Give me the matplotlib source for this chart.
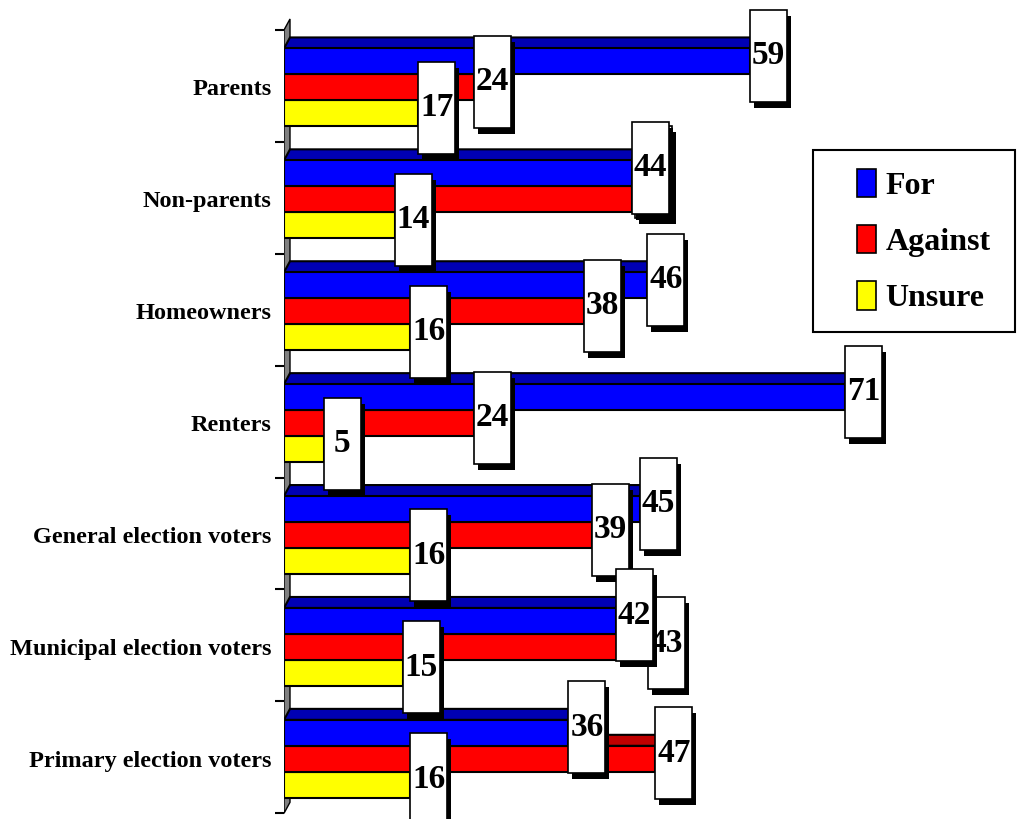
import matplotlib
matplotlib.use('Agg')
import matplotlib.pyplot as plt
from matplotlib.patches import Polygon, Rectangle, Patch

# Times-like bold serif, as in the original slide
plt.rcParams['font.family'] = ['Liberation Serif', 'DejaVu Serif']
plt.rcParams['font.weight'] = 'bold'

categories = ['Parents', 'Non-parents', 'Homeowners', 'Renters',
              'General election voters', 'Municipal election voters',
              'Primary election voters']
series_names = ['For', 'Against', 'Unsure']
for_vals = [59, 44, 46, 71, 45, 42, 36]
against_vals = [24, 44, 38, 24, 39, 43, 47]
unsure_vals = [17, 14, 16, 5, 16, 15, 16]

front_colors = ['#0000FF', '#FF0000', '#FFFF00']
top_colors = ['#0000B4', '#C00000', '#B4B400']
side_colors = ['#000090', '#A00000', '#909000']

# pixel nudges for value boxes that would sit on top of each other
# (category index, series index) -> (dx px, dy px)
label_nudge = {(1, 1): (3, -22), (5, 1): (24, 2)}

W, H = 1030, 823
fig = plt.figure(figsize=(W / 100, H / 100), dpi=100)

# axes placed so that 0 sits on the wall and categories are ~112 px apart
x_max = 94
y_top, y_bot = -0.2, 7.05
ax_w_px = 742.6
ax_h_px = 811.3
ax = fig.add_axes([284 / W, (H - 818.9) / H, ax_w_px / W, ax_h_px / H])
ax.set_xlim(0, x_max)
ax.set_ylim(y_bot, y_top)
ax.patch.set_alpha(0)
for s in ax.spines.values():
    s.set_visible(False)
ax.xaxis.set_visible(False)

px_x = ax_w_px / x_max
px_y = ax_h_px / (y_bot - y_top)
dx = 6 / px_x      # 3D depth, to the right
dy = 11 / px_y     # 3D depth, upwards
bar_h = 0.232
mid = 0.513

# grey side wall
ax.add_patch(Polygon([(0, 0), (dx, -dy), (dx, len(categories) - dy),
                      (0, len(categories))], closed=True,
                     facecolor='#808080', edgecolor='black', lw=1, zorder=1))

all_vals = [for_vals, against_vals, unsure_vals]
box_w = 37 / px_x
box_h = 92 / px_y
sh_x = 4 / px_x
sh_y = 6 / px_y

# draw from the bottom series up so the upper bar covers the top face below
for k in [2, 1, 0]:
    vals = all_vals[k]
    ys = [i + mid + (k - 1) * bar_h for i in range(len(categories))]
    z = 2 + (2 - k) * 0.3
    for y, v in zip(ys, vals):
        y0 = y - bar_h / 2
        y1 = y + bar_h / 2
        ax.add_patch(Polygon([(0, y0), (dx, y0 - dy), (v + dx, y0 - dy), (v, y0)],
                             closed=True, facecolor=top_colors[k],
                             edgecolor='black', lw=1.5, zorder=z))
        ax.add_patch(Polygon([(v, y0), (v + dx, y0 - dy), (v + dx, y1 - dy), (v, y1)],
                             closed=True, facecolor=side_colors[k],
                             edgecolor='black', lw=1.5, zorder=z))
    ax.barh(ys, vals, height=bar_h, color=front_colors[k],
            edgecolor='black', linewidth=1.5, zorder=z + 0.1)

# value boxes with drop shadow
for k in [2, 1, 0]:
    vals = all_vals[k]
    z = 5 + (2 - k)
    for i, v in enumerate(vals):
        nx, ny = label_nudge.get((i, k), (0, 0))
        x0 = v + nx / px_x
        yc = i + mid + (k - 1) * bar_h - dy / 2 + ny / px_y
        ax.add_patch(Rectangle((x0 + sh_x, yc - box_h / 2 + sh_y), box_w, box_h,
                               facecolor='black', edgecolor='none', zorder=z))
        ax.add_patch(Rectangle((x0, yc - box_h / 2), box_w, box_h,
                               facecolor='white', edgecolor='black', lw=1.2,
                               zorder=z + 0.1))
        ax.text(x0 + box_w / 2, yc, str(v), ha='center', va='center',
                fontsize=24, fontweight='bold', zorder=z + 0.2)

# category labels in the middle, boundary ticks between
ax.set_yticks([i + mid for i in range(len(categories))])
ax.set_yticklabels(categories, fontsize=17.5, fontweight='bold')
ax.set_yticks(range(len(categories) + 1), minor=True)
ax.tick_params(axis='y', which='major', length=0, pad=9)
ax.tick_params(axis='y', which='minor', length=6.5, width=1.5, color='black')

# legend
fig.patches.append(Rectangle((813 / W, 1 - 332 / H), 202 / W, 182 / H,
                             transform=fig.transFigure, facecolor='white',
                             edgecolor='black', lw=1.5, zorder=1))
handles = [Patch(facecolor=c, edgecolor='black', lw=1.2) for c in front_colors]
fig.legend(handles, series_names, loc='center left',
           bbox_to_anchor=(857 / W, 1 - 241 / H), frameon=False,
           prop={'size': 23, 'weight': 'bold'}, handlelength=0.6,
           handleheight=1.0, handletextpad=0.3, labelspacing=0.75,
           borderpad=0, borderaxespad=0)

fig.savefig('out.png', dpi=100)
